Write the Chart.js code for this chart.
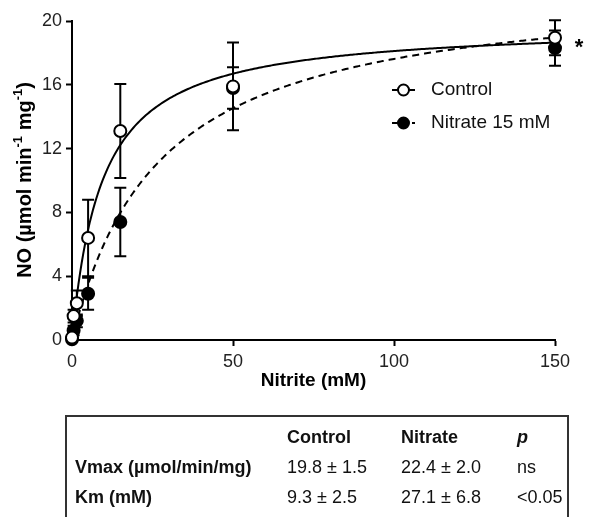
<!DOCTYPE html>
<html>
<head>
<meta charset="utf-8">
<script src="https://cdn.jsdelivr.net/npm/chart.js@4.4.1/dist/chart.umd.min.js"></script>
<style>
  html, body { margin: 0; padding: 0; background: #fff; }
  #wrap { position: relative; width: 589px; height: 517px; overflow: hidden; }
  #c { position: absolute; left: 0; top: 0; }
  #kin {
    position: absolute; left: 65px; top: 415px; width: 504px; height: 130px;
    border: 2px solid #333; box-sizing: border-box;
    font-family: "Liberation Sans", Arial, sans-serif; font-size: 18px; color: #111;
  }
  .cell { position: absolute; white-space: nowrap; line-height: 20px; }
  .b { font-weight: bold; }
  .i { font-style: italic; }
</style>
</head>
<body>
<div id="wrap">
  <canvas id="c" width="589" height="517"></canvas>
  <div id="kin"></div>
</div>
<script>
// Nitrite concentrations (mM) and NO production (µmol min-1 mg-1), mean ± SEM
const nitrite     = [0, 0.5, 1.5, 5, 15, 50, 150];
const controlNO   = [0.15, 1.5, 2.3, 6.4, 13.1, 15.9, 18.95];
const controlSEM  = [0.1, 0.4, 0.8, 2.4, 2.95, 2.75, 1.1];
const nitrateNO   = [0.05, 0.6, 1.2, 2.9, 7.4, 15.8, 18.3];
const nitrateSEM  = [0.1, 0.3, 0.4, 1.0, 2.15, 1.3, 1.1];

// Axis ticks
const xTicks = [0, 50, 100, 150];
const yTicks = [0, 4, 8, 12, 16, 20];

// Michaelis-Menten fit parameters [Control, Nitrate]
const fitVmax = [19.8, 22.4];
const fitKm   = [9.3, 27.1];

// Kinetics table
const tableHead   = ["", "Control", "Nitrate", "p"];
const tableLabels = ["Vmax (µmol/min/mg)", "Km (mM)"];
const tableControl = ["19.8 ± 1.5", "9.3 ± 2.5"];
const tableNitrate = ["22.4 ± 2.0", "27.1 ± 6.8"];
const tableP       = ["ns", "<0.05"];

const FONT = '"Liberation Sans", Arial, sans-serif';

function points(xs, ys) { return xs.map((x, i) => ({ x: x, y: ys[i] })); }

// Fitted curve sampled along the nitrite axis
function fitCurve(vmax, km) {
  const out = [];
  for (let s = 0; s <= 300; s++) {
    const x = s * 0.5;
    out.push({ x: x, y: vmax * x / (km + x) });
  }
  return out;
}

const errorBars = {
  id: 'errorBars',
  beforeDatasetsDraw(chart) {
    const { ctx, scales: { x, y } } = chart;
    const sets = [[controlNO, controlSEM], [nitrateNO, nitrateSEM]];
    ctx.save();
    ctx.strokeStyle = '#000';
    ctx.lineWidth = 2;
    sets.forEach(([m, e]) => {
      nitrite.forEach((xv, i) => {
        const px = x.getPixelForValue(xv);
        const hi = y.getPixelForValue(m[i] + e[i]);
        const lo = y.getPixelForValue(Math.max(0, m[i] - e[i]));
        ctx.beginPath();
        ctx.moveTo(px, hi); ctx.lineTo(px, lo);
        ctx.moveTo(px - 6, hi); ctx.lineTo(px + 6, hi);
        ctx.moveTo(px - 6, lo); ctx.lineTo(px + 6, lo);
        ctx.stroke();
      });
    });
    ctx.restore();
  }
};

const annotations = {
  id: 'annotations',
  afterDraw(chart) {
    const { ctx, chartArea } = chart;
    ctx.save();
    ctx.fillStyle = '#000';

    // y-axis title with superscripts
    const parts = [
      ['NO (µmol min', false], ['-1', true], [' mg', false], ['-1', true], [')', false]
    ];
    const big = 'bold 20px ' + FONT, small = 'bold 13px ' + FONT;
    let total = 0;
    parts.forEach(([t, sup]) => { ctx.font = sup ? small : big; total += ctx.measureText(t).width; });
    ctx.translate(25, 180);
    ctx.rotate(-Math.PI / 2);
    ctx.textBaseline = 'middle';
    ctx.textAlign = 'left';
    let cx = -total / 2;
    parts.forEach(([t, sup]) => {
      ctx.font = sup ? small : big;
      ctx.fillText(t, cx, sup ? -7 : 0);
      cx += ctx.measureText(t).width;
    });
    ctx.setTransform(1, 0, 0, 1, 0, 0);

    // x-axis title
    ctx.font = 'bold 19px ' + FONT;
    ctx.textAlign = 'center';
    ctx.textBaseline = 'middle';
    ctx.fillText('Nitrite (mM)', (chartArea.left + chartArea.right) / 2, 381);

    // significance mark
    ctx.font = 'bold 22px ' + FONT;
    ctx.fillText('*', 579, 48);

    // legend
    const lx = 392, lw = 23, r = 5.5;
    const items = [
      { label: 'Control', y: 90, dash: [], fill: '#fff' },
      { label: 'Nitrate 15 mM', y: 123, dash: [6, 4], fill: '#000' }
    ];
    items.forEach(it => {
      ctx.strokeStyle = '#000';
      ctx.lineWidth = 2;
      ctx.setLineDash(it.dash);
      ctx.beginPath();
      ctx.moveTo(lx, it.y); ctx.lineTo(lx + lw, it.y);
      ctx.stroke();
      ctx.setLineDash([]);
      ctx.beginPath();
      ctx.arc(lx + 11.5, it.y, r, 0, Math.PI * 2);
      ctx.fillStyle = it.fill;
      ctx.fill();
      ctx.stroke();
      ctx.fillStyle = '#111';
      ctx.font = '19px ' + FONT;
      ctx.textAlign = 'left';
      ctx.textBaseline = 'middle';
      ctx.fillText(it.label, 431, it.y);
    });
    ctx.restore();
  }
};

new Chart(document.getElementById('c'), {
  type: 'scatter',
  data: {
    datasets: [
      {
        label: 'Control',
        data: points(nitrite, controlNO),
        pointStyle: 'circle', pointRadius: 6,
        pointBackgroundColor: '#fff', pointBorderColor: '#000', pointBorderWidth: 2,
        showLine: false, clip: false
      },
      {
        label: 'Nitrate 15 mM',
        data: points(nitrite, nitrateNO),
        pointStyle: 'circle', pointRadius: 6,
        pointBackgroundColor: '#000', pointBorderColor: '#000', pointBorderWidth: 2,
        showLine: false, clip: false
      },
      {
        label: 'Control fit',
        data: fitCurve(fitVmax[0], fitKm[0]),
        showLine: true, pointRadius: 0, borderColor: '#000', borderWidth: 2,
        tension: 0, clip: false
      },
      {
        label: 'Nitrate fit',
        data: fitCurve(fitVmax[1], fitKm[1]),
        showLine: true, pointRadius: 0, borderColor: '#000', borderWidth: 2,
        borderDash: [7, 5], tension: 0, clip: false
      }
    ]
  },
  options: {
    responsive: false,
    animation: false,
    events: [],
    layout: { padding: { top: 21, right: 34, bottom: 0, left: 0 } },
    plugins: { legend: { display: false }, tooltip: { enabled: false } },
    scales: {
      x: {
        type: 'linear', min: 0, max: 150,
        afterBuildTicks: s => { s.ticks = xTicks.map(v => ({ value: v })); },
        afterFit: s => { s.height = 177; },
        grid: { drawOnChartArea: false, drawTicks: true, tickLength: 6, tickWidth: 2, color: '#000' },
        border: { display: true, color: '#000', width: 2 },
        ticks: { color: '#222', font: { family: FONT, size: 18 }, padding: 5 }
      },
      y: {
        type: 'linear', min: 0, max: 20,
        afterBuildTicks: s => { s.ticks = yTicks.map(v => ({ value: v })); },
        afterFit: s => { s.width = 72; },
        grid: { drawOnChartArea: false, drawTicks: true, tickLength: 6, tickWidth: 2, color: '#000' },
        border: { display: true, color: '#000', width: 2 },
        ticks: { color: '#222', font: { family: FONT, size: 18 }, padding: 4 }
      }
    }
  },
  plugins: [errorBars, annotations]
});

// Kinetics table below the plot
(function buildTable() {
  const box = document.getElementById('kin');
  const colX = [8, 220, 334, 450];
  const rowY = [10, 40, 70];
  function cell(text, x, y, cls) {
    const d = document.createElement('div');
    d.className = 'cell ' + (cls || '');
    d.style.left = x + 'px';
    d.style.top = y + 'px';
    d.textContent = text;
    box.appendChild(d);
  }
  tableHead.forEach((h, c) => { if (h) cell(h, colX[c], rowY[0], c === 3 ? 'b i' : 'b'); });
  tableLabels.forEach((lab, r) => {
    cell(lab, colX[0], rowY[r + 1], 'b');
    cell(tableControl[r], colX[1], rowY[r + 1]);
    cell(tableNitrate[r], colX[2], rowY[r + 1]);
    cell(tableP[r], colX[3], rowY[r + 1]);
  });
})();
</script>
</body>
</html>
